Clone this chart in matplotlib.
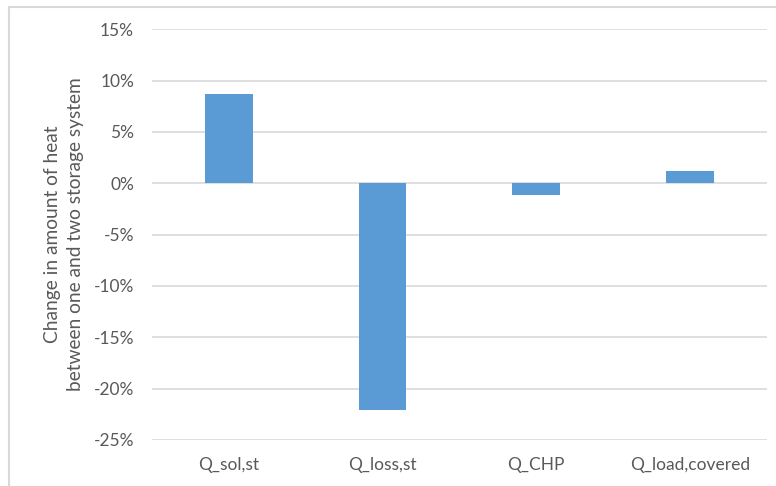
import numpy as np
import matplotlib.pyplot as plt
from matplotlib.patches import Rectangle
from matplotlib.ticker import FuncFormatter

categories = ['Q_sol,st', 'Q_loss,st', 'Q_CHP', 'Q_load,covered']
change = [8.7, -22.1, -1.1, 1.2]  # percent

plt.rcParams['font.family'] = ['Lato', 'DejaVu Sans']
txt = '#595959'
grid = '#d9d9d9'

fig = plt.figure(figsize=(7.76, 4.86), dpi=100)
ax = fig.add_axes([0.196, 0.0947, 0.792, 0.8453])

x = np.arange(len(categories))
ax.bar(x, change, width=0.31, color='#5b9bd5', zorder=3)

ax.set_xlim(-0.5, len(categories) - 0.5)
ax.set_ylim(-25, 15)
ax.set_yticks(np.arange(-25, 16, 5))
ax.yaxis.set_major_formatter(FuncFormatter(lambda v, p: '%d%%' % v))
ax.set_xticks(x)
ax.set_xticklabels(categories)
ax.grid(axis='y', color=grid, linewidth=1.2, zorder=0)
for s in ax.spines.values():
    s.set_visible(False)
ax.tick_params(length=0, labelsize=12.5, colors=txt)
ax.tick_params(axis='y', pad=13)
ax.tick_params(axis='x', pad=12)
ax.set_ylabel('Change in amount of heat\nbetween one and two storage system',
              fontsize=13.8, color=txt, labelpad=7, linespacing=1.45)

# chart area border
fig.patches.append(Rectangle((9 / 776, -0.1), 1.2, 1 - 7 / 486 + 0.1,
                             transform=fig.transFigure, fill=False,
                             edgecolor=grid, linewidth=1.5))

fig.savefig('out.png', dpi=100)
